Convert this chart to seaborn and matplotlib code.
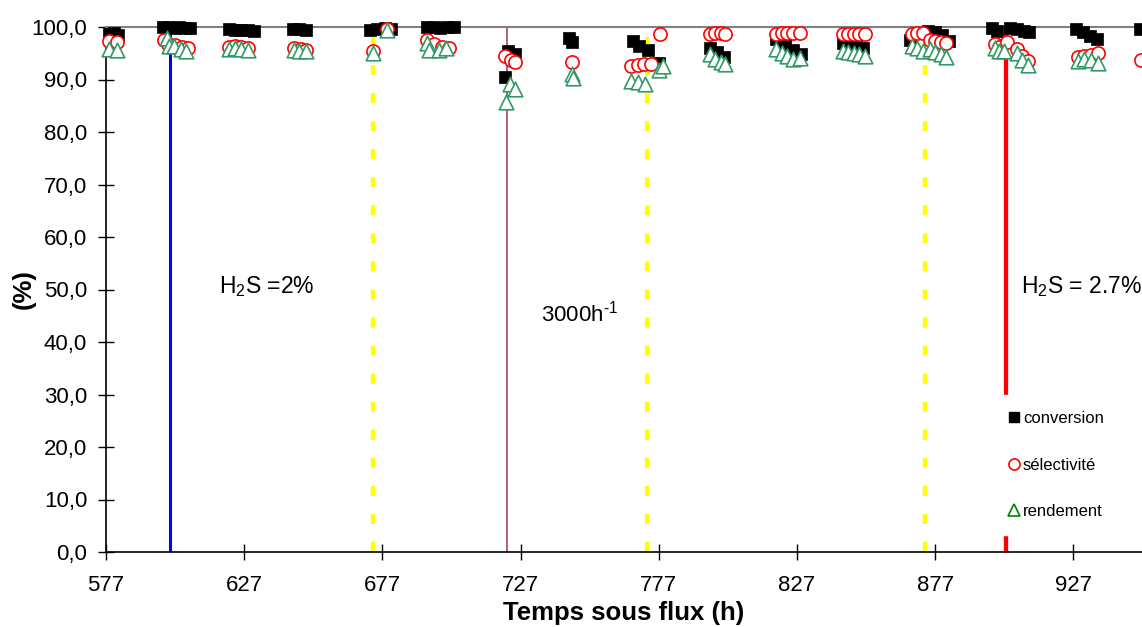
import matplotlib
matplotlib.use("Agg")
import matplotlib.pyplot as plt
from matplotlib.lines import Line2D
import seaborn as sns

# --- data -------------------------------------------------------------
t_conv = [578.0, 580.0, 581.5, 597.5, 599.5, 601.5, 603.5, 605.5, 607.5,
          621.5, 623.5, 626.0, 628.5, 630.5, 644.5, 647.0, 649.5,
          672.5, 675.0, 678.0, 680.0, 693.0, 695.5, 698.0, 700.5, 703.0,
          721.5, 722.5, 725.0, 744.5, 745.5, 767.5, 770.0, 773.0, 777.0,
          795.5, 798.0, 800.5, 819.5, 822.5, 825.5, 828.5,
          843.5, 846.0, 848.5, 851.0, 868.0, 874.5, 877.0, 879.5, 882.0,
          897.5, 899.5, 904.0, 906.5, 909.0, 911.0,
          928.0, 930.5, 933.0, 935.5, 951.0]
conversion = [98.6, 98.9, 98.5, 100.0, 100.0, 99.9, 100.0, 99.8, 99.9,
              99.6, 99.5, 99.5, 99.4, 99.3, 99.7, 99.6, 99.5,
              99.5, 99.7, 99.8, 99.6, 100.0, 100.0, 99.9, 100.0, 100.0,
              90.5, 95.5, 94.8, 98.0, 97.2, 97.3, 96.3, 95.6, 93.2,
              96.0, 95.2, 94.3, 97.8, 96.8, 95.6, 94.8,
              96.9, 96.7, 96.3, 96.0, 97.5, 99.2, 99.0, 98.5, 97.3,
              99.8, 99.3, 99.8, 99.6, 99.3, 99.0,
              99.7, 99.0, 98.3, 97.8, 99.6]

t_sel = [578.0, 581.0, 598.0, 599.5, 602.0, 604.5, 606.5,
         621.5, 623.5, 626.0, 628.5, 645.0, 647.5, 649.5,
         673.5, 678.5, 693.0, 695.5, 698.5, 701.0,
         721.5, 723.5, 725.0, 745.5, 767.0, 769.5, 771.5, 774.0, 777.5,
         795.5, 797.5, 799.5, 801.0, 819.5, 821.5, 823.5, 825.5, 828.0,
         843.5, 845.5, 847.5, 849.5, 851.5,
         868.5, 870.5, 872.5, 875.0, 877.0, 879.0, 881.0,
         898.5, 900.0, 903.0, 906.5, 908.5, 910.5,
         928.5, 931.0, 933.5, 936.0, 951.5]
selectivite = [97.3, 97.2, 97.5, 96.8, 96.5, 96.2, 96.0,
               96.2, 96.3, 96.1, 96.0, 96.0, 95.8, 95.6,
               95.5, 99.6, 97.5, 96.7, 96.2, 96.0,
               94.5, 93.8, 93.3, 93.3, 92.5, 92.7, 92.9, 93.0, 98.6,
               98.7, 98.8, 98.8, 98.7, 98.6, 98.8, 98.8, 98.8, 98.9,
               98.6, 98.6, 98.7, 98.7, 98.6,
               98.7, 98.8, 98.8, 97.6, 97.4, 97.2, 96.9,
               96.8, 96.2, 97.2, 95.8, 94.5, 93.6,
               94.2, 94.4, 94.6, 95.0, 93.7]

t_rend = [578.0, 581.0, 599.0, 599.8, 601.5, 604.0, 606.0,
          621.5, 623.5, 626.0, 628.5, 645.0, 647.0, 649.5,
          673.5, 678.5, 693.0, 694.0, 697.5, 700.0,
          721.8, 723.0, 725.0, 745.5, 746.0, 767.0, 769.5, 772.0, 777.0, 778.5,
          795.5, 797.5, 799.5, 801.0, 819.5, 821.5, 823.5, 825.5, 828.0,
          843.5, 845.5, 847.5, 849.5, 851.5,
          868.5, 870.5, 872.5, 875.0, 877.0, 879.0, 881.0,
          898.5, 900.0, 902.0, 906.5, 908.5, 910.5,
          928.5, 931.0, 933.5, 936.0]
rendement = [95.8, 95.6, 97.9, 96.4, 96.3, 95.9, 95.5,
             95.9, 96.0, 95.8, 95.7, 95.7, 95.5, 95.4,
             95.1, 99.5, 97.0, 95.6, 95.7, 96.0,
             85.7, 89.2, 88.2, 91.0, 90.3, 89.8, 89.5, 89.1, 91.8, 92.6,
             94.8, 94.0, 93.3, 92.9, 95.8, 95.0, 94.4, 93.9, 94.1,
             95.4, 95.2, 95.1, 94.8, 94.5,
             96.4, 96.0, 95.4, 95.8, 95.2, 94.8, 94.3,
             96.0, 95.4, 95.5, 95.0, 93.8, 92.7,
             93.6, 94.0, 93.8, 93.1]

# change-of-conditions markers (time in h)
event_times = [600.0, 673.6, 722.0, 772.7, 873.3, 902.6]
event_colors = ["#0000ff", "#ffff00", "#993366", "#ffff00", "#ffff00", "#ff0000"]
event_styles = ["solid", "dashed", "solid", "dashed", "dashed", "solid"]
event_widths = [2.2, 3.1, 1.1, 3.1, 3.1, 3.1]

annotations = ["H$_\\mathregular{2}$S =2%", "3000h$^\\mathregular{\u20101}$",
               "H$_\\mathregular{2}$S = 2.7%"]
annot_x = [618.0, 734.5, 908.0]
annot_y = [50.5, 45.5, 50.5]
annot_size = [16.5, 16.0, 16.5]

x_ticks = [577, 627, 677, 727, 777, 827, 877, 927]
y_ticks = [0, 10, 20, 30, 40, 50, 60, 70, 80, 90, 100]

# --- style ------------------------------------------------------------
sns.set_theme(style="white")
plt.rcParams["font.family"] = ["Liberation Sans", "DejaVu Sans"]
plt.rcParams["mathtext.fontset"] = "custom"
plt.rcParams["mathtext.rm"] = "Liberation Sans"
plt.rcParams["mathtext.it"] = "Liberation Sans:italic"
plt.rcParams["mathtext.bf"] = "Liberation Sans:bold"
plt.rcParams["lines.scale_dashes"] = False
for key in ["text.color", "axes.labelcolor", "xtick.color", "ytick.color"]:
    plt.rcParams[key] = "black"

fig = plt.figure(figsize=(11.42, 6.27), dpi=100)
ax = fig.add_axes([106 / 1142, 75 / 627, 1036 / 1142, 525 / 627])

# vertical lines for the condition changes
for t, c, ls, lw in zip(event_times, event_colors, event_styles, event_widths):
    line = ax.vlines(t, 0, 100, colors=c, linewidth=lw, zorder=2)
    if ls == "dashed":
        line.set_linestyle((0, (7.2, 13.0)))

green = "#339966"
sns.scatterplot(x=t_conv, y=conversion, marker="s", color="black",
                edgecolor="black", linewidth=0.5, s=75, ax=ax,
                clip_on=False, zorder=3, legend=False)
sns.scatterplot(x=t_sel, y=selectivite, marker="o", color="white",
                edgecolor="#ff0000", linewidth=1.2, s=90, ax=ax,
                clip_on=False, zorder=4, legend=False)
sns.scatterplot(x=t_rend, y=rendement, marker="^", color="white",
                edgecolor=green, linewidth=1.2, s=110, ax=ax,
                clip_on=False, zorder=5, legend=False)

for txt, xx, yy, fs in zip(annotations, annot_x, annot_y, annot_size):
    ax.text(xx, yy, txt, fontsize=fs, ha="left", va="center", zorder=6)

ax.set_xlim(577, 577 + 1036 / 2.764)
ax.set_ylim(0, 100)
ax.set_xticks(x_ticks)
ax.set_xticklabels([str(v) for v in x_ticks])
ax.set_yticks(y_ticks)
ax.set_yticklabels([f"{v:.1f}".replace(".", ",") for v in y_ticks])
ax.tick_params(axis="both", direction="inout", length=11, width=1,
               color="black", labelsize=16, pad=8, left=True, bottom=True)
ax.tick_params(axis="x", pad=11)

for side in ["left", "bottom"]:
    ax.spines[side].set_color("black")
    ax.spines[side].set_linewidth(1.2)
ax.spines["top"].set_color("#808080")
ax.spines["top"].set_linewidth(1.5)
ax.spines["right"].set_visible(False)
ax.grid(False)

ax.set_xlabel("Temps sous flux (h)", fontsize=18.5, fontweight="bold", labelpad=4)
ax.set_ylabel("(%)", fontsize=18.5, fontweight="bold")
ax.yaxis.set_label_coords(-70 / 1036, 0.5)

handles = [
    Line2D([], [], linestyle="none", marker="s", markersize=7.5,
           markerfacecolor="black", markeredgecolor="black", label="conversion"),
    Line2D([], [], linestyle="none", marker="o", markersize=8,
           markerfacecolor="white", markeredgecolor="#ff0000",
           markeredgewidth=1.2, label="sélectivité"),
    Line2D([], [], linestyle="none", marker="^", markersize=8.5,
           markerfacecolor="white", markeredgecolor="#008000",
           markeredgewidth=1.2, label="rendement"),
]
leg = fig.legend(handles=handles, loc="upper left",
                 bbox_to_anchor=(992 / 1142, 1 - 395 / 627),
                 frameon=True, fontsize=12, labelspacing=1.9,
                 handlelength=0.7, handletextpad=0.2, borderpad=0.95,
                 borderaxespad=0)
leg.get_frame().set_facecolor("white")
leg.get_frame().set_edgecolor("white")
leg.get_frame().set_alpha(1.0)
leg.set_zorder(10)

fig.savefig("out.png", dpi=100)
